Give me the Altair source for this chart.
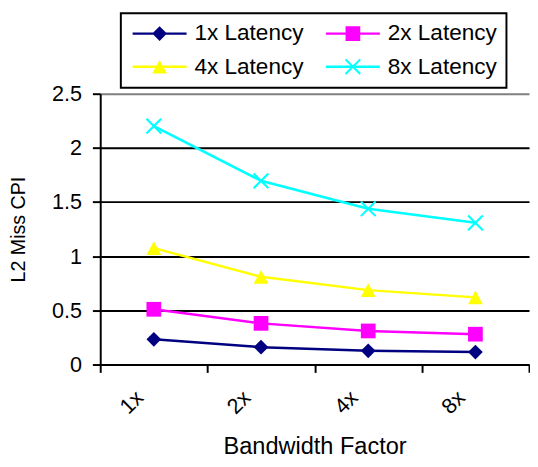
import altair as alt
import pandas as pd

bandwidth = ["1x", "2x", "4x", "8x"]
series = ["1x Latency", "2x Latency", "4x Latency", "8x Latency"]
lat1 = [0.233, 0.160, 0.127, 0.115]
lat2 = [0.510, 0.380, 0.310, 0.280]
lat4 = [1.075, 0.810, 0.687, 0.620]
lat8 = [2.200, 1.696, 1.438, 1.308]
colors = ["#000080", "#FF00FF", "#FFFF00", "#00FFFF"]

rows = []
for name, vals in zip(series, [lat1, lat2, lat4, lat8]):
    for b, v in zip(bandwidth, vals):
        rows.append({"series": name, "bw": b, "cpi": v})
df = pd.DataFrame(rows)

FONT = "Liberation Sans"

# marker outlines in unit coordinates
a = 0.1
marker_polys = [
    [[(0, -1), (1, 0), (0, 1), (-1, 0)]],
    [[(-1, -1), (1, -1), (1, 1), (-1, 1)]],
    [[(0, -0.93), (1, 0.93), (-1, 0.93)]],
    [[(-1 + a, -1 - a), (1 + a, 1 - a), (1 - a, 1 + a), (-1 - a, -1 + a)],
     [(-1 + a, 1 + a), (-1 - a, 1 - a), (1 - a, -1 - a), (1 + a, -1 + a)]],
]


def path(polys, s=1.0):
    out = ""
    for p in polys:
        out += "M" + "L".join(f"{x * s:.3f},{y * s:.3f}" for x, y in p) + "Z"
    return out


plot_paths = [path(p) for p in marker_polys]
# legend symbol: nominal size 20px (unit = 10px); line drawn 55px long
h = 0.125
line_rect = [(-2.75, -h), (2.75, -h), (2.75, h), (-2.75, h)]
legend_paths = [path([line_rect]) + path(p, 0.75) for p in marker_polys]

series_arr = "[" + ",".join(f"'{s}'" for s in series) + "]"
shape_expr = "[" + ",".join(f"'{p}'" for p in legend_paths) + "][indexof(" + series_arr + ", datum.value)]"
fill_expr = "[" + ",".join(f"'{c}'" for c in colors) + "][indexof(" + series_arr + ", datum.value)]"

color_scale = alt.Scale(domain=series, range=colors)
legend = alt.Legend(
    title=None, orient="none", legendX=21, legendY=-82, direction="horizontal",
    columns=2, padding=9, symbolOffset=19, labelOffset=24, columnPadding=19,
    rowPadding=10, symbolSize=400, labelFontSize=23,
    labelFont=FONT, labelColor="#000000", strokeColor="#000000",
    symbolType={"expr": shape_expr}, symbolFillColor={"expr": fill_expr},
    symbolOpacity=1, symbolStrokeWidth=0,
)

x_enc = alt.X(
    "bw:N", sort=bandwidth,
    scale=alt.Scale(type="band", paddingInner=0, paddingOuter=0),
    axis=alt.Axis(
        title="Bandwidth Factor", tickBand="extent", grid=False,
        labelAngle=315, labelAlign="center", labelBaseline="middle",
        labelOffset=-23, labelPadding=30, tickSize=8,
        titlePadding=18,
    ),
)
y_enc = alt.Y(
    "cpi:Q", scale=alt.Scale(domain=[0, 2.5], nice=False, zero=True),
    axis=alt.Axis(
        title="L2 Miss CPI", values=[0, 0.5, 1, 1.5, 2, 2.5], format="~g",
        grid=True, gridWidth=2,
        gridColor={"expr": "datum.value == 2.5 ? '#808080' : '#000000'"},
        tickSize=8, labelPadding=11, titlePadding=24,
    ),
)

lines = alt.Chart(df).mark_line(strokeWidth=2.5).encode(
    x=x_enc, y=y_enc,
    color=alt.Color("series:N", scale=color_scale, legend=legend),
    detail="series:N",
)

points = alt.Chart(df).mark_point(filled=True, opacity=1, size=225).encode(
    x=x_enc, y=y_enc,
    color=alt.Color("series:N", scale=color_scale, legend=None),
    shape=alt.Shape("series:N", scale=alt.Scale(domain=series, range=plot_paths), legend=None),
)

chart = alt.layer(lines, points).resolve_scale(color="independent").resolve_legend(
    color="independent"
).properties(
    width=437, height=276, padding=0, background="#ffffff",
).configure_view(stroke=None).configure_axis(
    labelFont=FONT, titleFont=FONT, labelFontSize=22, titleFontSize=24,
    labelColor="#000000", titleColor="#000000", titleFontWeight="normal",
    domainColor="#000000", domainWidth=2, tickColor="#000000", tickWidth=2,
).configure_axisY(labelFontSize=22, titleFontSize=20).configure_legend(strokeWidth=2)

chart.save("out.html", embed_options={"renderer": "svg", "actions": False})
